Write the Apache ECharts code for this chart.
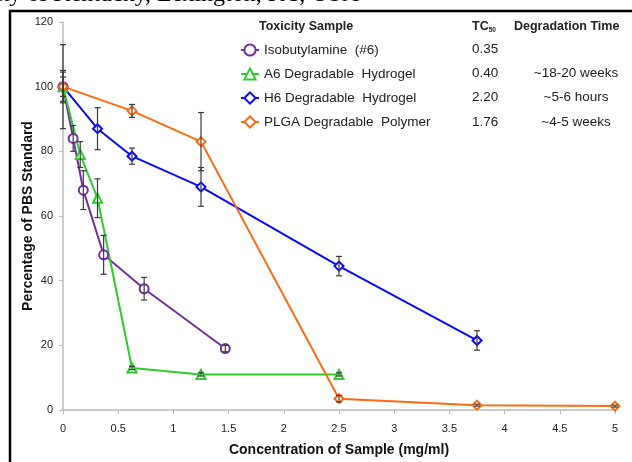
<!DOCTYPE html>
<html><head><meta charset="utf-8">
<script src="https://cdn.jsdelivr.net/npm/echarts@6/dist/echarts.min.js"></script>
<style>html,body{margin:0;padding:0;background:#fff}#c{width:632px;height:462px}</style>
</head><body><div id="c"></div>
<script>
// ---- data ----
var seriesNames = ['Isobutylamine  (#6)', 'A6 Degradable  Hydrogel', 'H6 Degradable  Hydrogel', 'PLGA Degradable  Polymer'];
var tc50 = ['0.35', '0.40', '2.20', '1.76'];
var degradation = ['', '~18-20 weeks', '~5-6 hours', '~4-5 weeks'];

var isoX = [0, 0.092, 0.184, 0.368, 0.735, 1.47];
var isoY = [100, 84, 68, 48, 37.5, 19];
var isoErr = [13, 4, 6, 6, 3.5, 1];

var a6X = [0, 0.156, 0.3125, 0.625, 1.25, 2.5];
var a6Y = [100, 79, 65.5, 13, 11, 11];
var a6Err = [4.5, 4, 6, 0.5, 0.5, 0.5];

var h6X = [0, 0.3125, 0.625, 1.25, 2.5, 3.75];
var h6Y = [100, 87, 78.5, 69, 44.5, 21.5];
var h6Err = [3, 6.5, 2.5, 6, 3, 3];

var plgaX = [0, 0.625, 1.25, 2.5, 3.75, 5];
var plgaY = [100, 92.5, 83, 3.5, 1.5, 1.2];
var plgaErr = [5, 2, 9, 1, 0.3, 0.3];

var xTicks = [0, 0.5, 1, 1.5, 2, 2.5, 3, 3.5, 4, 4.5, 5];
var yTicks = [0, 20, 40, 60, 80, 100, 120];

// ---- build ----
function pts(xs, ys) { return xs.map(function (x, i) { return [x, ys[i]]; }); }
function errs(xs, ys, es) { return xs.map(function (x, i) { return [x, ys[i] - es[i], ys[i] + es[i]]; }); }

var colors = ['#7030A0', '#2ECC2E', '#0A0AFF', '#FF6A10'];
var symbols = ['circle', 'triangle', 'diamond', 'diamond'];
var xs = [isoX, a6X, h6X, plgaX], ys = [isoY, a6Y, h6Y, plgaY], es = [isoErr, a6Err, h6Err, plgaErr];

var allErr = [];
for (var k = 0; k < 4; k++) allErr = allErr.concat(errs(xs[k], ys[k], es[k]));

var series = [{
  type: 'custom', name: 'err', silent: true, z: 3,
  data: allErr,
  renderItem: function (params, api) {
    var x = api.value(0), lo = api.value(1), hi = api.value(2);
    var p1 = api.coord([x, lo]), p2 = api.coord([x, hi]);
    var w = 3;
    var st = { stroke: '#3a3a3a', lineWidth: 1.2 };
    return { type: 'group', children: [
      { type: 'line', shape: { x1: p1[0], y1: p1[1], x2: p2[0], y2: p2[1] }, style: st },
      { type: 'line', shape: { x1: p1[0] - w, y1: p1[1], x2: p1[0] + w, y2: p1[1] }, style: st },
      { type: 'line', shape: { x1: p2[0] - w, y1: p2[1], x2: p2[0] + w, y2: p2[1] }, style: st }
    ]};
  }
}];
for (var i = 0; i < 4; i++) {
  series.push({
    type: 'line', name: seriesNames[i], data: pts(xs[i], ys[i]),
    symbol: symbols[i], symbolSize: 9,
    color: colors[i], z: 2,
    lineStyle: { width: 2, color: colors[i] },
    itemStyle: { color: '#fff', borderColor: colors[i], borderWidth: 2 }
  });
}

var chart = echarts.init(document.getElementById('c'), null, { renderer: 'canvas' });
var F = 'Liberation Sans, Arial, sans-serif';
var tblGraphics = [
  { type: 'rect', shape: { x: 10, y: 11, width: 660, height: 480 }, style: { fill: 'none', stroke: '#000', lineWidth: 2.5 }, z: 10 },
  { type: 'text', left: -4, top: -17, style: { text: 'ity of Kentucky, Lexington, KY, USA', font: '24px Liberation Serif, Times New Roman, serif', fill: '#000' } },
  { type: 'text', left: 259, top: 20, style: { text: 'Toxicity Sample', font: 'bold 12.5px ' + F, fill: '#222' } },
  { type: 'text', left: 472, top: 20, style: { text: '{a|TC}{s|50}', rich: { a: { font: 'bold 12.5px ' + F, fill: '#222' }, s: { font: 'bold 6.5px ' + F, fill: '#222', padding: [7, 0, 0, 0] } } } },
  { type: 'text', left: 514, top: 20, style: { text: 'Degradation Time', font: 'bold 12.5px ' + F, fill: '#222' } }
];
var rowsY = [42, 66, 90, 115];
for (var r = 0; r < 4; r++) {
  tblGraphics.push({ type: 'text', left: 472, top: rowsY[r], style: { text: tc50[r], font: '13.5px ' + F, fill: '#222' } });
  if (degradation[r]) tblGraphics.push({ type: 'text', x: 576, y: rowsY[r], style: { text: degradation[r], font: '13.5px ' + F, fill: '#222', align: 'center', verticalAlign: 'top' } });
}

chart.setOption({
  animation: false,
  backgroundColor: '#fff',
  grid: { left: 63, right: 17, top: 22, bottom: 51 },
  legend: {
    data: seriesNames, orient: 'vertical', left: 235, top: 38, itemGap: 10, itemWidth: 18, itemHeight: 14,
    textStyle: { fontFamily: F, fontSize: 13.5, color: '#222' }
  },
  xAxis: {
    type: 'value', min: 0, max: 5, interval: 0.5,
    name: 'Concentration of Sample (mg/ml)', nameLocation: 'middle', nameGap: 33,
    nameTextStyle: { fontFamily: F, fontSize: 14, fontWeight: 'bold', color: '#111' },
    axisLine: { lineStyle: { color: '#bbb', width: 1.5 } },
    axisTick: { show: true, length: 4, lineStyle: { color: '#bbb' } },
    axisLabel: { fontFamily: F, fontSize: 11, color: '#222', margin: 13, formatter: function (v) { return String(v); } },
    splitLine: { show: false }
  },
  yAxis: {
    type: 'value', min: 0, max: 120, interval: 20,
    name: 'Percentage of PBS Standard', nameLocation: 'middle', nameGap: 28, nameMoveOverlap: false,
    nameTextStyle: { fontFamily: F, fontSize: 14, fontWeight: 'bold', color: '#111' },
    axisLine: { show: true, lineStyle: { color: '#bbb', width: 1.5 } },
    axisTick: { show: true, length: 4, lineStyle: { color: '#bbb' } },
    axisLabel: { fontFamily: F, fontSize: 11, color: '#222', margin: 10 },
    splitLine: { show: false }
  },
  series: series,
  graphic: tblGraphics
});
</script></body></html>
